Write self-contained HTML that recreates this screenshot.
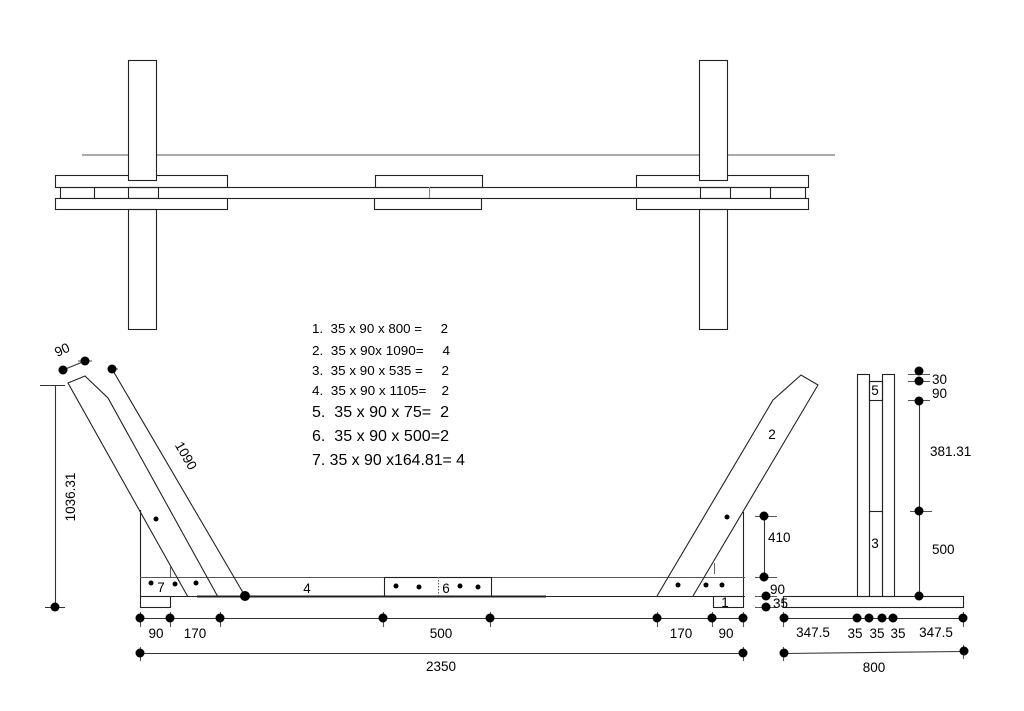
<!DOCTYPE html>
<html><head><meta charset="utf-8"><style>
html,body{margin:0;padding:0;background:#fff}
svg{display:block}
text{font-family:"Liberation Sans",sans-serif;fill:#000;white-space:pre}
</style></head><body>
<svg width="1024" height="711" viewBox="0 0 1024 711" xmlns="http://www.w3.org/2000/svg">
<g fill="none" stroke="#222" stroke-width="1.1">
<!-- TOP VIEW -->
<line x1="82" y1="155" x2="835" y2="155" stroke="#555"/>
<rect x="55.5" y="175.5" width="172" height="12" fill="#fff"/>
<rect x="375.5" y="175.5" width="107" height="12" fill="#fff"/>
<rect x="636.5" y="175.5" width="172" height="12" fill="#fff"/>
<rect x="128.5" y="60.5" width="28" height="120" fill="#fff"/>
<rect x="699.5" y="60.5" width="28" height="120" fill="#fff"/>
<rect x="60.5" y="187.5" width="745" height="11"/>
<line x1="94.5" y1="187" x2="94.5" y2="198"/>
<rect x="128.5" y="187.5" width="30" height="11"/>
<line x1="429.5" y1="187" x2="429.5" y2="198" stroke="#888"/>
<rect x="700.5" y="187.5" width="30" height="11"/>
<line x1="770.5" y1="187" x2="770.5" y2="198"/>
<rect x="55.5" y="198.5" width="172" height="11" fill="#fff"/>
<rect x="374.5" y="198.5" width="107" height="11" fill="#fff"/>
<rect x="636.5" y="198.5" width="172" height="11" fill="#fff"/>
<rect x="128.5" y="209.5" width="28" height="120"/>
<rect x="699.5" y="209.5" width="28" height="120"/>

<!-- FRONT VIEW -->
<line x1="140.5" y1="510" x2="140.5" y2="596"/>
<line x1="743.5" y1="512" x2="743.5" y2="596"/>
<line x1="140" y1="577.5" x2="745" y2="577.5" stroke="#555"/>
<line x1="140" y1="596.5" x2="745" y2="596.5"/>
<line x1="197" y1="596.5" x2="546" y2="596.5" stroke-width="2"/>
<rect x="140.5" y="596.5" width="30" height="11"/>
<rect x="713.5" y="596.5" width="30" height="11"/>
<rect x="384.5" y="577.5" width="107" height="19"/>
<line x1="438.5" y1="577" x2="438.5" y2="596" stroke-dasharray="1.5 1.5" stroke="#666"/>
<line x1="170.5" y1="567" x2="170.5" y2="577" stroke="#666"/>
<line x1="714.5" y1="563" x2="714.5" y2="574" stroke="#666"/>
<polyline points="188,597 68,383 85,376 108,398 218,597"/>
<line x1="112" y1="369" x2="245" y2="596"/>
<polyline points="657,596 773,400 801,375 818,385 693,596"/>

<!-- SIDE VIEW -->
<rect x="857.5" y="374.5" width="12" height="222"/>
<rect x="869.5" y="381.5" width="13" height="215"/>
<rect x="869.5" y="381.5" width="13" height="19"/>
<line x1="869" y1="511.5" x2="882" y2="511.5"/>
<rect x="882.5" y="374.5" width="12" height="222"/>
<rect x="783.5" y="596.5" width="180" height="11"/>

<g stroke="#333">
<line x1="55.5" y1="385" x2="55.5" y2="607"/>
<line x1="40" y1="385.5" x2="65" y2="385.5"/>
<line x1="45" y1="607.5" x2="65" y2="607.5"/>
<line x1="63" y1="370" x2="85" y2="361"/>
<line x1="140" y1="618.5" x2="743" y2="618.5"/>
<line x1="140" y1="653.5" x2="743" y2="653.5"/>
<line x1="783" y1="618.5" x2="963" y2="618.5"/>
<line x1="783" y1="653.5" x2="963" y2="651.5"/>
<line x1="764.5" y1="516" x2="764.5" y2="577"/>
<line x1="919.5" y1="400" x2="919.5" y2="596"/>
</g>
<g stroke="#555">
<line x1="140.5" y1="612" x2="140.5" y2="627"/><line x1="170.5" y1="612" x2="170.5" y2="627"/>
<line x1="220.5" y1="612" x2="220.5" y2="627"/><line x1="383.5" y1="612" x2="383.5" y2="627"/>
<line x1="490.5" y1="612" x2="490.5" y2="627"/><line x1="657.5" y1="612" x2="657.5" y2="627"/>
<line x1="712.5" y1="612" x2="712.5" y2="627"/><line x1="743.5" y1="612" x2="743.5" y2="627"/>
<line x1="140.5" y1="647" x2="140.5" y2="661"/><line x1="743.5" y1="647" x2="743.5" y2="661"/>
<line x1="783.5" y1="612" x2="783.5" y2="627"/><line x1="963.5" y1="612" x2="963.5" y2="627"/>
<line x1="783.5" y1="647" x2="783.5" y2="661"/><line x1="963.5" y1="645" x2="963.5" y2="659"/>
<line x1="755" y1="516.5" x2="777" y2="516.5"/><line x1="755" y1="577.5" x2="777" y2="577.5"/>
<line x1="755" y1="596.5" x2="777" y2="596.5"/><line x1="755" y1="607.5" x2="777" y2="607.5"/>
<line x1="908" y1="374.5" x2="930" y2="374.5"/><line x1="908" y1="381.5" x2="930" y2="381.5"/>
<line x1="908" y1="400.5" x2="930" y2="400.5"/><line x1="910" y1="511.5" x2="932" y2="511.5"/>
<line x1="108" y1="369" x2="118" y2="369"/><line x1="78" y1="361" x2="92" y2="361"/>
</g>
</g>

<g fill="#000">
<circle cx="55" cy="607" r="4.5"/>
<circle cx="63" cy="370" r="4.5"/><circle cx="85" cy="361" r="4.5"/><circle cx="112" cy="369" r="4.5"/>
<circle cx="140" cy="618" r="4.5"/><circle cx="170" cy="618" r="4.5"/><circle cx="220" cy="618" r="4.5"/>
<circle cx="383" cy="618" r="4.5"/><circle cx="490" cy="618" r="4.5"/><circle cx="657" cy="618" r="4.5"/>
<circle cx="712" cy="618" r="4.5"/><circle cx="743" cy="618" r="4.5"/>
<circle cx="140" cy="653" r="4.5"/><circle cx="743" cy="653" r="4.5"/>
<circle cx="784" cy="618" r="4.5"/><circle cx="857" cy="618" r="4.5"/><circle cx="869" cy="618" r="4.5"/>
<circle cx="882" cy="618" r="4.5"/><circle cx="893" cy="618" r="4.5"/><circle cx="963" cy="618" r="4.5"/>
<circle cx="784" cy="653" r="4.5"/><circle cx="964" cy="651" r="4.5"/>
<circle cx="764" cy="516" r="4.5"/><circle cx="764" cy="577" r="4.5"/><circle cx="766" cy="596" r="4.5"/><circle cx="766" cy="607" r="4.5"/>
<circle cx="919" cy="371" r="4.5"/><circle cx="919" cy="381" r="4.5"/><circle cx="919" cy="401" r="4.5"/>
<circle cx="919" cy="511" r="4.5"/><circle cx="919" cy="596" r="4.5"/>
<circle cx="245" cy="596" r="5"/>
<circle cx="156" cy="519" r="2.5"/><circle cx="151" cy="583" r="2.5"/><circle cx="175" cy="584" r="2.5"/><circle cx="196" cy="583" r="2.5"/>
<circle cx="396" cy="586" r="2.5"/><circle cx="419" cy="587" r="2.5"/><circle cx="460" cy="586" r="2.5"/><circle cx="478" cy="587" r="2.5"/>
<circle cx="727" cy="517" r="2.5"/><circle cx="678" cy="585" r="2.5"/><circle cx="706" cy="585" r="2.5"/><circle cx="722" cy="585" r="2.5"/>
</g>

<g font-size="13" xml:space="preserve">
<text x="312" y="333" textLength="136" lengthAdjust="spacingAndGlyphs" xml:space="preserve">1.  35 x 90 x 800 =     2</text>
<text x="312" y="355" textLength="138" lengthAdjust="spacingAndGlyphs" xml:space="preserve">2.  35 x 90x 1090=     4</text>
<text x="312" y="375" textLength="137" lengthAdjust="spacingAndGlyphs" xml:space="preserve">3.  35 x 90 x 535 =     2</text>
<text x="312" y="395" textLength="137" lengthAdjust="spacingAndGlyphs" xml:space="preserve">4.  35 x 90 x 1105=    2</text>
</g>
<g font-size="16">
<text x="312" y="417" textLength="137" lengthAdjust="spacingAndGlyphs" xml:space="preserve">5.  35 x 90 x 75=  2</text>
<text x="312" y="441" textLength="137" lengthAdjust="spacingAndGlyphs" xml:space="preserve">6.  35 x 90 x 500=2</text>
<text x="312" y="465" textLength="153" lengthAdjust="spacingAndGlyphs" xml:space="preserve">7. 35 x 90 x164.81= 4</text>
</g>

<g font-size="13.5">
<text x="161" y="592" text-anchor="middle">7</text>
<text x="307" y="593" text-anchor="middle">4</text>
<text x="446" y="593" text-anchor="middle">6</text>
<text x="725" y="607" text-anchor="middle">1</text>
<text x="772" y="439" text-anchor="middle">2</text>
<text x="875" y="395" text-anchor="middle">5</text>
<text x="875" y="548" text-anchor="middle">3</text>
<text x="156" y="638" text-anchor="middle">90</text>
<text x="195" y="638" text-anchor="middle">170</text>
<text x="441" y="638" text-anchor="middle">500</text>
<text x="681" y="638" text-anchor="middle">170</text>
<text x="726" y="638" text-anchor="middle">90</text>
<text x="441" y="671" text-anchor="middle">2350</text>
<text x="813" y="637" text-anchor="middle">347.5</text>
<text x="855" y="638" text-anchor="middle">35</text>
<text x="877" y="638" text-anchor="middle">35</text>
<text x="898" y="638" text-anchor="middle">35</text>
<text x="936" y="637" text-anchor="middle">347.5</text>
<text x="874" y="672" text-anchor="middle">800</text>
<text x="768" y="542">410</text>
<text x="770" y="594">90</text>
<text x="773" y="608">35</text>
<text x="932" y="384">30</text>
<text x="932" y="398">90</text>
<text x="930" y="456">381.31</text>
<text x="932" y="554">500</text>
<text transform="translate(75,497) rotate(-90)" text-anchor="middle">1036.31</text>
<text transform="translate(64,354) rotate(-25)" text-anchor="middle">90</text>
<text transform="translate(182,458) rotate(60)" text-anchor="middle">1090</text>
</g>
</svg>
</body></html>
